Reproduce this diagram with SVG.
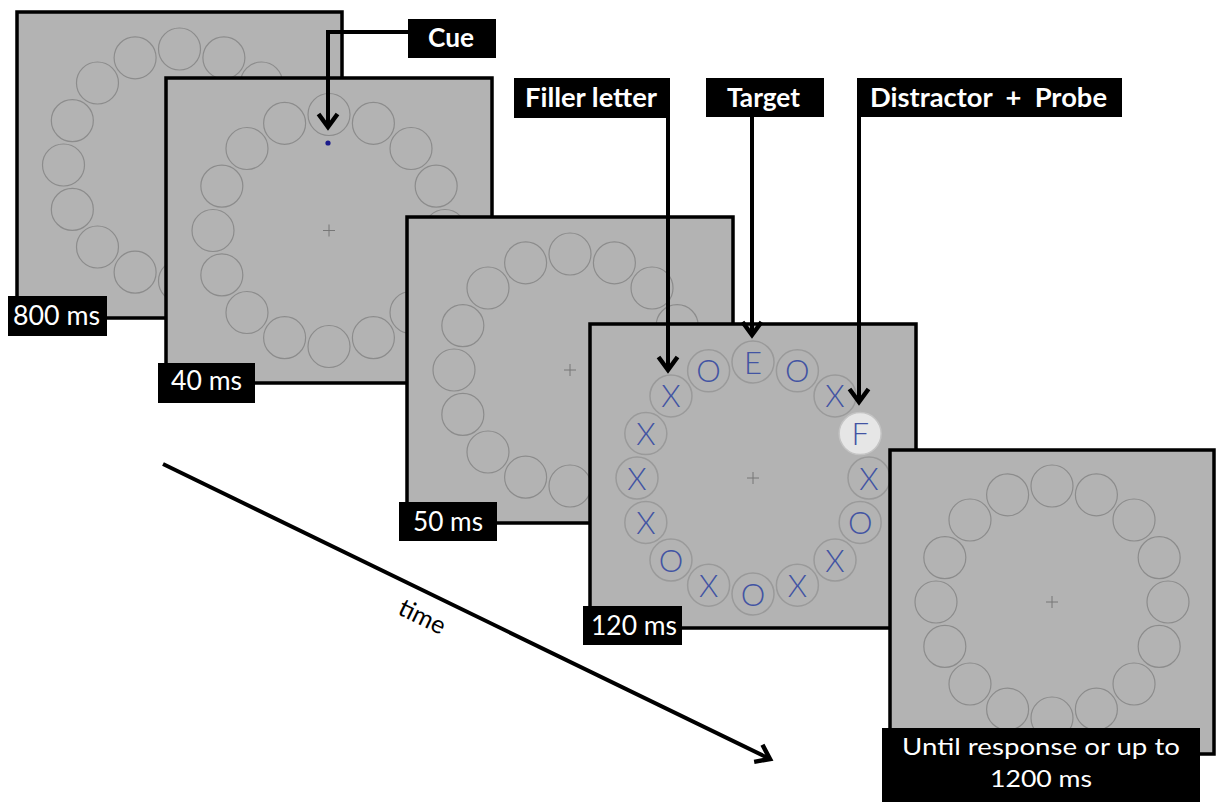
<svg xmlns="http://www.w3.org/2000/svg" xmlns:xlink="http://www.w3.org/1999/xlink" width="1220" height="802" viewBox="0 0 1220 802">
<style>
.frame{fill:#b3b3b3;stroke:#000;stroke-width:3.5}
.rc{fill:none;stroke:#8c8c8c;stroke-width:1.2}
.rc4{fill:none;stroke:#9a9a9a;stroke-width:1.5}
.cross{stroke:#777;stroke-width:1}
.lbl{fill:#000}
.lt{fill:#fff;font-family:Lato,"Open Sans",sans-serif;font-size:26px}
.ut{fill:#fff;font-family:Lato,"Open Sans",sans-serif;font-size:24px}
.bt{fill:#fff;font-family:Lato,"Open Sans",sans-serif;font-size:26px;font-weight:bold}
.let{fill:#4254a3;font-family:Lato,"Liberation Sans",sans-serif;font-weight:300;font-size:31px;text-anchor:middle}
.con{fill:none;stroke:#000;stroke-width:4}
</style>
<defs>
<marker id="chev" viewBox="-20 -15 25 30" markerWidth="25" markerHeight="30" refX="0" refY="0" orient="auto" markerUnits="userSpaceOnUse">
<path d="M -13 -9.5 L 0 0 L -13 9.5" fill="none" stroke="#000" stroke-width="4.5"/>
</marker>
<g id="ring">
<circle class="rc" cx="0" cy="-116" r="21"/>
<circle class="rc" cx="44.39" cy="-107.17" r="21"/>
<circle class="rc" cx="82.02" cy="-82.02" r="21"/>
<circle class="rc" cx="107.17" cy="-44.39" r="21"/>
<circle class="rc" cx="116" cy="0" r="21"/>
<circle class="rc" cx="107.17" cy="44.39" r="21"/>
<circle class="rc" cx="82.02" cy="82.02" r="21"/>
<circle class="rc" cx="44.39" cy="107.17" r="21"/>
<circle class="rc" cx="0" cy="116" r="21"/>
<circle class="rc" cx="-44.39" cy="107.17" r="21"/>
<circle class="rc" cx="-82.02" cy="82.02" r="21"/>
<circle class="rc" cx="-107.17" cy="44.39" r="21"/>
<circle class="rc" cx="-116" cy="0" r="21"/>
<circle class="rc" cx="-107.17" cy="-44.39" r="21"/>
<circle class="rc" cx="-82.02" cy="-82.02" r="21"/>
<circle class="rc" cx="-44.39" cy="-107.17" r="21"/>
<path class="cross" d="M -6 0 H 6 M 0 -6 V 6"/>
</g>
</defs>

<g id="frame1">
<rect class="frame" x="17" y="12" width="325" height="306"/>
<use xlink:href="#ring" href="#ring" x="179.5" y="165"/>
<rect class="lbl" x="8" y="296" width="99" height="40"/>
<text class="lt" x="13" y="325" textLength="87" lengthAdjust="spacingAndGlyphs">800 ms</text>
</g>

<g id="frame2">
<rect class="frame" x="166" y="78" width="326" height="305"/>
<use xlink:href="#ring" href="#ring" x="329" y="230.5"/>
<circle cx="328" cy="143" r="2.6" fill="#1c1c8c"/>
<rect class="lbl" x="158" y="363" width="97" height="40"/>
<text class="lt" x="171" y="390" textLength="71" lengthAdjust="spacingAndGlyphs">40 ms</text>
</g>

<g id="frame3">
<rect class="frame" x="407" y="217" width="326" height="306"/>
<use xlink:href="#ring" href="#ring" x="570" y="370"/>
<rect class="lbl" x="399" y="502" width="98" height="39"/>
<text class="lt" x="413" y="531" textLength="70" lengthAdjust="spacingAndGlyphs">50 ms</text>
</g>

<g id="frame4">
<rect class="frame" x="590" y="324" width="326" height="304"/>
<g transform="translate(753,478)">
<circle class="rc4" cx="0" cy="-116" r="21"/>
<circle class="rc4" cx="44.39" cy="-107.17" r="21"/>
<circle class="rc4" cx="82.02" cy="-82.02" r="21"/>
<circle cx="107.17" cy="-44.39" r="21" fill="#e6e6e6" stroke="#c4c4c4" stroke-width="1.5"/>
<circle class="rc4" cx="116" cy="0" r="21"/>
<circle class="rc4" cx="107.17" cy="44.39" r="21"/>
<circle class="rc4" cx="82.02" cy="82.02" r="21"/>
<circle class="rc4" cx="44.39" cy="107.17" r="21"/>
<circle class="rc4" cx="0" cy="116" r="21"/>
<circle class="rc4" cx="-44.39" cy="107.17" r="21"/>
<circle class="rc4" cx="-82.02" cy="82.02" r="21"/>
<circle class="rc4" cx="-107.17" cy="44.39" r="21"/>
<circle class="rc4" cx="-116" cy="0" r="21"/>
<circle class="rc4" cx="-107.17" cy="-44.39" r="21"/>
<circle class="rc4" cx="-82.02" cy="-82.02" r="21"/>
<circle class="rc4" cx="-44.39" cy="-107.17" r="21"/>
<path class="cross" d="M -6 0 H 6 M 0 -6 V 6"/>
<text class="let" x="0" y="-104.5">E</text>
<text class="let" x="44.39" y="-95.67">O</text>
<text class="let" x="82.02" y="-70.52">X</text>
<text class="let" x="107.17" y="-32.89">F</text>
<text class="let" x="116" y="11.5">X</text>
<text class="let" x="107.17" y="55.89">O</text>
<text class="let" x="82.02" y="93.52">X</text>
<text class="let" x="44.39" y="118.67">X</text>
<text class="let" x="0" y="127.5">O</text>
<text class="let" x="-44.39" y="118.67">X</text>
<text class="let" x="-82.02" y="93.52">O</text>
<text class="let" x="-107.17" y="55.89">X</text>
<text class="let" x="-116" y="11.5">X</text>
<text class="let" x="-107.17" y="-32.89">X</text>
<text class="let" x="-82.02" y="-70.52">X</text>
<text class="let" x="-44.39" y="-95.67">O</text>
</g>
<rect class="lbl" x="583" y="606" width="99" height="39"/>
<text class="lt" x="591" y="635" textLength="86" lengthAdjust="spacingAndGlyphs">120 ms</text>
</g>

<g id="frame5">
<rect class="frame" x="890" y="450" width="324" height="304"/>
<use xlink:href="#ring" href="#ring" x="1052" y="602"/>
<rect class="lbl" x="882" y="728" width="318" height="74"/>
<text class="ut" x="1041" y="755" text-anchor="middle" textLength="278" lengthAdjust="spacingAndGlyphs">Until response or up to</text>
<text class="ut" x="1041" y="787" text-anchor="middle" textLength="102" lengthAdjust="spacingAndGlyphs">1200 ms</text>
</g>

<g id="label-cue">
<rect class="lbl" x="408" y="19" width="88" height="39"/>
<text class="bt" x="428" y="47" textLength="46" lengthAdjust="spacingAndGlyphs">Cue</text>
</g>
<g id="label-filler">
<rect class="lbl" x="514" y="78" width="156" height="40"/>
<text class="bt" x="525" y="107" textLength="132" lengthAdjust="spacingAndGlyphs">Filler letter</text>
</g>
<g id="label-target">
<rect class="lbl" x="706" y="78" width="118" height="39"/>
<text class="bt" x="727" y="107" textLength="73" lengthAdjust="spacingAndGlyphs">Target</text>
</g>
<g id="label-distractor">
<rect class="lbl" x="857" y="78" width="265" height="39"/>
<text class="bt" x="870" y="107" xml:space="preserve" textLength="237" lengthAdjust="spacingAndGlyphs">Distractor  +  Probe</text>
</g>

<g id="connectors">
<path class="con" d="M 408 32 H 328 V 127" marker-end="url(#chev)"/>
<path class="con" d="M 668 118 V 370" marker-end="url(#chev)"/>
<path class="con" d="M 752 117 V 335" marker-end="url(#chev)"/>
<path class="con" d="M 859 117 V 402" marker-end="url(#chev)"/>
<path class="con" d="M 163 464 L 770 759" marker-end="url(#chev)"/>
</g>

<g id="time-label">
<text transform="translate(422,617) rotate(26)" x="0" y="8" text-anchor="middle" font-family="Lato, 'Open Sans', sans-serif" font-size="25" fill="#000">time</text>
</g>
</svg>
